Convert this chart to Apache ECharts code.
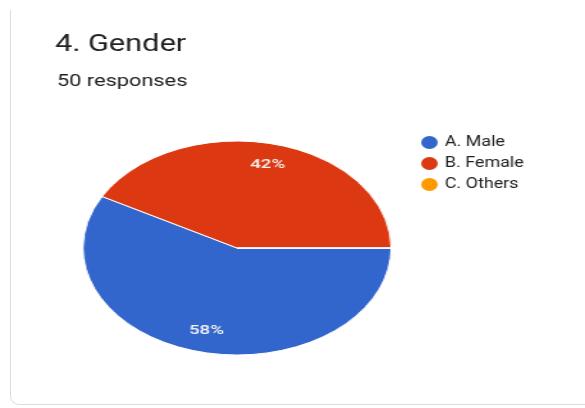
<!DOCTYPE html>
<html><head><meta charset="utf-8">
<script src="https://cdn.jsdelivr.net/npm/echarts@6/dist/echarts.min.js"></script>
<style>
html,body{margin:0;padding:0;background:#fff;width:585px;height:408px;overflow:hidden;position:relative}
#card{position:absolute;left:10px;top:10px;width:620px;height:394px;border:1.5px solid #dadce0;border-top:none;border-bottom-left-radius:9px}
#pie{position:absolute;left:0;top:0;width:406px;height:408px;transform-origin:0 0;transform:scaleX(1.44)}
#txt{position:absolute;left:0;top:0;width:457px;height:408px;transform-origin:0 0;transform:scaleX(1.28)}
</style></head><body>
<div id="card"></div><div id="pie"></div><div id="txt"></div>
<script>
const categories = ['A. Male', 'B. Female', 'C. Others'];
const responses = [29, 21, 0];
const colors = ['#3366cc', '#dc3912', '#ff9900'];
const titleText = '4. Gender';
const subtitleText = '50 responses';

const FONT = 'Roboto, "Noto Sans", sans-serif';
const seriesData = categories.map((name, i) => ({ name: name, value: responses[i] }));

const pieChart = echarts.init(document.getElementById('pie'));
pieChart.setOption({
  animation: false,
  color: colors,
  series: [
    {
      type: 'pie',
      center: [164.6, 248],
      radius: [0, 107],
      startAngle: 0,
      clockwise: true,
      silent: true,
      itemStyle: { borderColor: '#ffffff', borderWidth: 1 },
      label: { show: false },
      labelLine: { show: false },
      data: seriesData
    },
    {
      type: 'pie',
      center: [164.6, 248],
      radius: [58, 107],
      startAngle: 0,
      clockwise: true,
      silent: true,
      itemStyle: { color: 'rgba(0,0,0,0)' },
      label: {
        show: true,
        position: 'inside',
        color: '#f4f4f4',
        fontSize: 13,
        fontWeight: 500,
        fontFamily: FONT,
        formatter: p => p.value ? Math.round(p.percent) + '%' : ''
      },
      labelLine: { show: false },
      data: seriesData
    }
  ]
});

const txtChart = echarts.init(document.getElementById('txt'));
txtChart.setOption({
  animation: false,
  color: colors,
  title: [
    { text: titleText, left: 43, top: 33, padding: 0,
      textStyle: { fontSize: 24, fontWeight: 'normal', color: '#202124', fontFamily: FONT } },
    { text: subtitleText, left: 44.5, top: 73, padding: 0,
      textStyle: { fontSize: 17, fontWeight: 'normal', color: '#202124', fontFamily: FONT } }
  ],
  legend: {
    orient: 'vertical',
    left: 329,
    top: 135.5,
    padding: 0,
    icon: 'circle',
    itemWidth: 14,
    itemHeight: 13,
    itemGap: 7,
    selectedMode: false,
    textStyle: { fontSize: 14, color: '#202124', fontFamily: FONT },
    data: categories
  },
  series: [{
    type: 'pie',
    center: [-50, -50],
    radius: [0, 0],
    silent: true,
    label: { show: false },
    labelLine: { show: false },
    data: seriesData
  }]
});
</script>
</body></html>
